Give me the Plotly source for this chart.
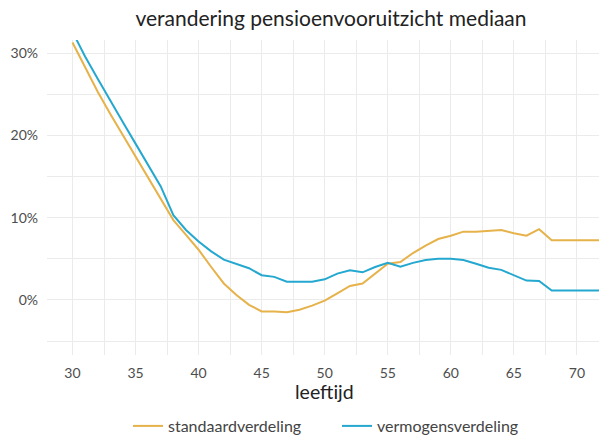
import plotly.graph_objects as go

leeftijd = list(range(30, 73))
standaardverdeling = [31.3, 28.2, 25.3, 22.6, 20.0, 17.5, 14.9, 12.3, 9.7, 7.9,
                      6.1, 4.0, 2.0, 0.6, -0.6, -1.4, -1.4, -1.5, -1.2, -0.7,
                      -0.1, 0.8, 1.7, 2.0, 3.2, 4.4, 4.6, 5.7, 6.6, 7.4,
                      7.8, 8.3, 8.3, 8.4, 8.5, 8.1, 7.8, 8.6, 7.25, 7.25,
                      7.25, 7.25, 7.25]
vermogensverdeling = [32.6, 29.6, 26.9, 24.2, 21.6, 19.0, 16.4, 13.8, 10.3, 8.5,
                      7.1, 5.9, 4.9, 4.4, 3.85, 3.0, 2.8, 2.2, 2.2, 2.2,
                      2.5, 3.2, 3.6, 3.35, 4.0, 4.5, 4.05, 4.5, 4.85, 5.0,
                      5.0, 4.85, 4.4, 3.9, 3.65, 3.0, 2.35, 2.3, 1.15, 1.15,
                      1.15, 1.15, 1.15]
y_ticks = [0, 10, 20, 30]
y_labels = ["0%", "10%", "20%", "30%"]
x_ticks = [30, 35, 40, 45, 50, 55, 60, 65, 70]

FONT = "Lato"
W, H = 599, 436
L, T, B = 47, 40, 81
PH = H - T - B
PW = W - L

fig = go.Figure()
fig.add_trace(go.Scatter(x=leeftijd, y=standaardverdeling, mode="lines",
                         name="standaardverdeling", legend="legend",
                         line=dict(color="#E6B24A", width=2)))
fig.add_trace(go.Scatter(x=leeftijd, y=vermogensverdeling, mode="lines",
                         name="vermogensverdeling", legend="legend2",
                         line=dict(color="#25A8D0", width=2)))

grid = "#EBEBEB"
leg_common = dict(orientation="h", xanchor="left", yanchor="middle",
                  y=-(426 - 355) / PH,
                  font=dict(size=16, color="#444444", family=FONT),
                  bgcolor="rgba(0,0,0,0)")
fig.update_layout(
    width=W, height=H,
    margin=dict(l=L, r=0, t=T, b=B, autoexpand=False),
    plot_bgcolor="white", paper_bgcolor="white",
    font=dict(family=FONT, color="#4D4D4D"),
    title=dict(text="verandering pensioenvooruitzicht mediaan",
               x=331 / W, xanchor="center", xref="container",
               y=1 - 19 / H, yanchor="middle", yref="container",
               font=dict(size=21, color="#222222", family=FONT)),
    showlegend=True,
    legend=dict(x=(128 - L) / PW, **leg_common),
    legend2=dict(x=(337 - L) / PW, **leg_common),
    xaxis=dict(range=[27.98, 71.75], tickvals=x_ticks,
               showgrid=True, gridcolor=grid, gridwidth=1.3,
               minor=dict(dtick=2.5, tick0=30, showgrid=True, gridcolor=grid, gridwidth=1.3),
               zeroline=False, showline=False, automargin=False,
               tickfont=dict(size=14, color="#4D4D4D"),
               ticklabelstandoff=8),
    yaxis=dict(range=[-6.7, 31.6], tickvals=y_ticks, ticktext=y_labels,
               showgrid=True, gridcolor=grid, gridwidth=1.3,
               minor=dict(dtick=5, tick0=0, showgrid=True, gridcolor=grid, gridwidth=1.3),
               zeroline=False, showline=False, automargin=False,
               tickfont=dict(size=14, color="#4D4D4D"),
               ticklabelstandoff=8),
)
fig.add_annotation(text="leeftijd", xref="paper", yref="paper",
                   x=(324 - L) / PW, y=-(391 - 355) / PH,
                   xanchor="center", yanchor="middle", showarrow=False,
                   font=dict(size=19.5, color="#222222", family=FONT))

fig.write_html("out.html", config={"displayModeBar": False},
               post_script="document.body.style.margin='0';document.body.style.overflow='hidden';")
